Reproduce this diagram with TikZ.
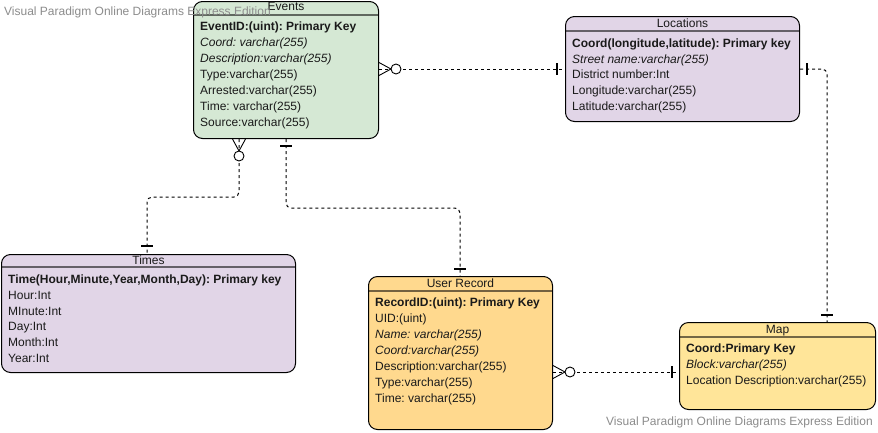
\documentclass[tikz,border=0pt]{standalone}
\usepackage{fontspec}
\setmainfont{Liberation Sans}
\usetikzlibrary{calc}
\frenchspacing
\definecolor{evfill}{HTML}{D5E8D4}
\definecolor{lcfill}{HTML}{E1D5E7}
\definecolor{urfill}{HTML}{FFD98E}
\definecolor{mapfill}{HTML}{FFE599}
\definecolor{txt}{HTML}{1A1A1A}
\definecolor{wm}{HTML}{8C8C8C}
\tikzset{
  tbl/.style={draw=black, line width=1pt, rounded corners=9pt, anchor=north west, inner sep=0pt},
  hdr/.style={font=\fontsize{12}{14}\selectfont, text=txt, anchor=center, inner sep=0pt, text height=9pt, text depth=3pt},
  row/.style={font=\fontsize{12}{14}\selectfont, text=txt, anchor=west, inner sep=0pt, text height=9pt, text depth=3pt},
  sepline/.style={line width=1.6pt, black, opacity=0.55},
  conn/.style={line width=1pt, black, dash pattern=on 3pt off 3pt},
  wmark/.style={font=\fontsize{12}{14}\selectfont, text=wm, anchor=west, inner sep=0pt, text height=9pt, text depth=3pt},
  crow/.pic={\draw[line width=0.9pt] (0,-6.5) -- (12,0) -- (0,6.5);
             \draw[line width=0.9pt, fill=white] (17,0) circle[radius=5];},
  onebar/.pic={\draw[line width=1.1pt] (0,-6) -- (0,6);}
}
\begin{document}
\begin{tikzpicture}[x=1pt, y=-1pt]
\useasboundingbox[fill=white] (0,0) rectangle (878,432);

% ---------- Events ----------
\node[tbl, fill=evfill, minimum width=185pt, minimum height=137pt] (events) at (193,1) {};
\draw[sepline] ($(events.north west)+(0,14)$) -- ($(events.north east)+(0,14)$);
\node[hdr] (evt) at ($(events.north)+(0,6.5)$) {Events};
\node[row] (ev1) at ($(events.north west)+(7,26)$) {\textbf{EventID:(uint): Primary Key}};
\node[row] (ev2) at ($(events.north west)+(7,42)$) {\itshape Coord: varchar(255)};
\node[row] (ev3) at ($(events.north west)+(7,58)$) {\itshape Description:varchar(255)};
\node[row] (ev4) at ($(events.north west)+(7,74)$) {Type:varchar(255)};
\node[row] (ev5) at ($(events.north west)+(7,90)$) {Arrested:varchar(255)};
\node[row] (ev6) at ($(events.north west)+(7,106)$) {Time: varchar(255)};
\node[row] (ev7) at ($(events.north west)+(7,122)$) {Source:varchar(255)};

% ---------- Locations ----------
\node[tbl, fill=lcfill, minimum width=234pt, minimum height=105pt] (locs) at (565,16) {};
\draw[sepline] ($(locs.north west)+(0,15)$) -- ($(locs.north east)+(0,15)$);
\node[hdr] (lct) at ($(locs.north)+(0,8)$) {Locations};
\node[row] (lc1) at ($(locs.north west)+(7,28)$) {\textbf{Coord(longitude,latitude): Primary key}};
\node[row] (lc2) at ($(locs.north west)+(7,44)$) {\itshape Street name:varchar(255)};
\node[row] (lc3) at ($(locs.north west)+(7,59)$) {District number:Int};
\node[row] (lc4) at ($(locs.north west)+(7,75)$) {Longitude:varchar(255)};
\node[row] (lc5) at ($(locs.north west)+(7,91)$) {Latitude:varchar(255)};

% ---------- Times ----------
\node[tbl, fill=lcfill, minimum width=294pt, minimum height=118pt] (times) at (1,254) {};
\draw[sepline] ($(times.north west)+(0,13)$) -- ($(times.north east)+(0,13)$);
\node[hdr] (tmt) at ($(times.north)+(0,7)$) {Times};
\node[row] (tm1) at ($(times.north west)+(7,26)$) {\textbf{Time(Hour,Minute,Year,Month,Day): Primary key}};
\node[row] (tm2) at ($(times.north west)+(7,42)$) {Hour:Int};
\node[row] (tm3) at ($(times.north west)+(7,58)$) {MInute:Int};
\node[row] (tm4) at ($(times.north west)+(7,73)$) {Day:Int};
\node[row] (tm5) at ($(times.north west)+(7,89)$) {Month:Int};
\node[row] (tm6) at ($(times.north west)+(7,105)$) {Year:Int};

% ---------- User Record ----------
\node[tbl, fill=urfill, minimum width=184pt, minimum height=153pt] (ur) at (368,276) {};
\draw[sepline] ($(ur.north west)+(0,15)$) -- ($(ur.north east)+(0,15)$);
\node[hdr] (urt) at ($(ur.north)+(0,8)$) {User Record};
\node[row] (ur1) at ($(ur.north west)+(7,27)$) {\textbf{RecordID:(uint): Primary Key}};
\node[row] (ur2) at ($(ur.north west)+(7,43)$) {UID:(uint)};
\node[row] (ur3) at ($(ur.north west)+(7,59)$) {\itshape Name: varchar(255)};
\node[row] (ur4) at ($(ur.north west)+(7,75)$) {\itshape Coord:varchar(255)};
\node[row] (ur5) at ($(ur.north west)+(7,91)$) {Description:varchar(255)};
\node[row] (ur6) at ($(ur.north west)+(7,107)$) {Type:varchar(255)};
\node[row] (ur7) at ($(ur.north west)+(7,123)$) {Time: varchar(255)};

% ---------- Map ----------
\node[tbl, fill=mapfill, minimum width=196pt, minimum height=87pt] (map) at (679,322) {};
\draw[sepline] ($(map.north west)+(0,15)$) -- ($(map.north east)+(0,15)$);
\node[hdr] (mpt) at ($(map.north)+(0,8)$) {Map};
\node[row] (mp1) at ($(map.north west)+(7,27)$) {\textbf{Coord:Primary Key}};
\node[row] (mp2) at ($(map.north west)+(7,43)$) {\itshape Block:varchar(255)};
\node[row] (mp3) at ($(map.north west)+(7,59)$) {Location Description:varchar(255)};

% ---------- connector end points ----------
\coordinate (c1a) at ($(events.north east)+(0,68)$);
\coordinate (c1b) at ($(locs.north west)+(0,53)$);
\coordinate (c2a) at ($(events.south west)+(46,0)$);
\coordinate (c2b) at ($(times.north west)+(146,0)$);
\coordinate (c3a) at ($(events.south west)+(93,0)$);
\coordinate (c3b) at ($(ur.north west)+(92,0)$);
\coordinate (c4a) at ($(locs.north east)+(0,53)$);
\coordinate (c4b) at ($(map.north west)+(148,0)$);
\coordinate (c5a) at ($(ur.north east)+(0,96)$);
\coordinate (c5b) at ($(map.north west)+(0,50)$);

% ---------- connectors ----------
\draw[conn] (c1a) -- (c1b);
\pic at (c1a) {crow};
\pic at ($(c1b)+(-8,0)$) {onebar};

\draw[conn, rounded corners=5pt] (c2a) -- ++(0,58) -| (c2b);
\pic[rotate=-90] at (c2a) {crow};
\pic[rotate=90] at ($(c2b)+(0,-8)$) {onebar};

\draw[conn, rounded corners=5pt] (c3a) -- ++(0,69) -| (c3b);
\pic[rotate=90] at ($(c3a)+(0,7)$) {onebar};
\pic[rotate=90] at ($(c3b)+(0,-7)$) {onebar};

\draw[conn, rounded corners=5pt] (c4a) -| (c4b);
\pic at ($(c4a)+(7,0)$) {onebar};
\pic[rotate=90] at ($(c4b)+(0,-7)$) {onebar};

\draw[conn] (c5a) -- (c5b);
\pic at (c5a) {crow};
\pic at ($(c5b)+(-7,0)$) {onebar};

% ---------- watermarks ----------
\node[wmark] (wm1) at (4,12) {Visual Paradigm Online Diagrams Express Edition};
\node[wmark] (wm2) at (606,422) {Visual Paradigm Online Diagrams Express Edition};
\end{tikzpicture}
\end{document}
